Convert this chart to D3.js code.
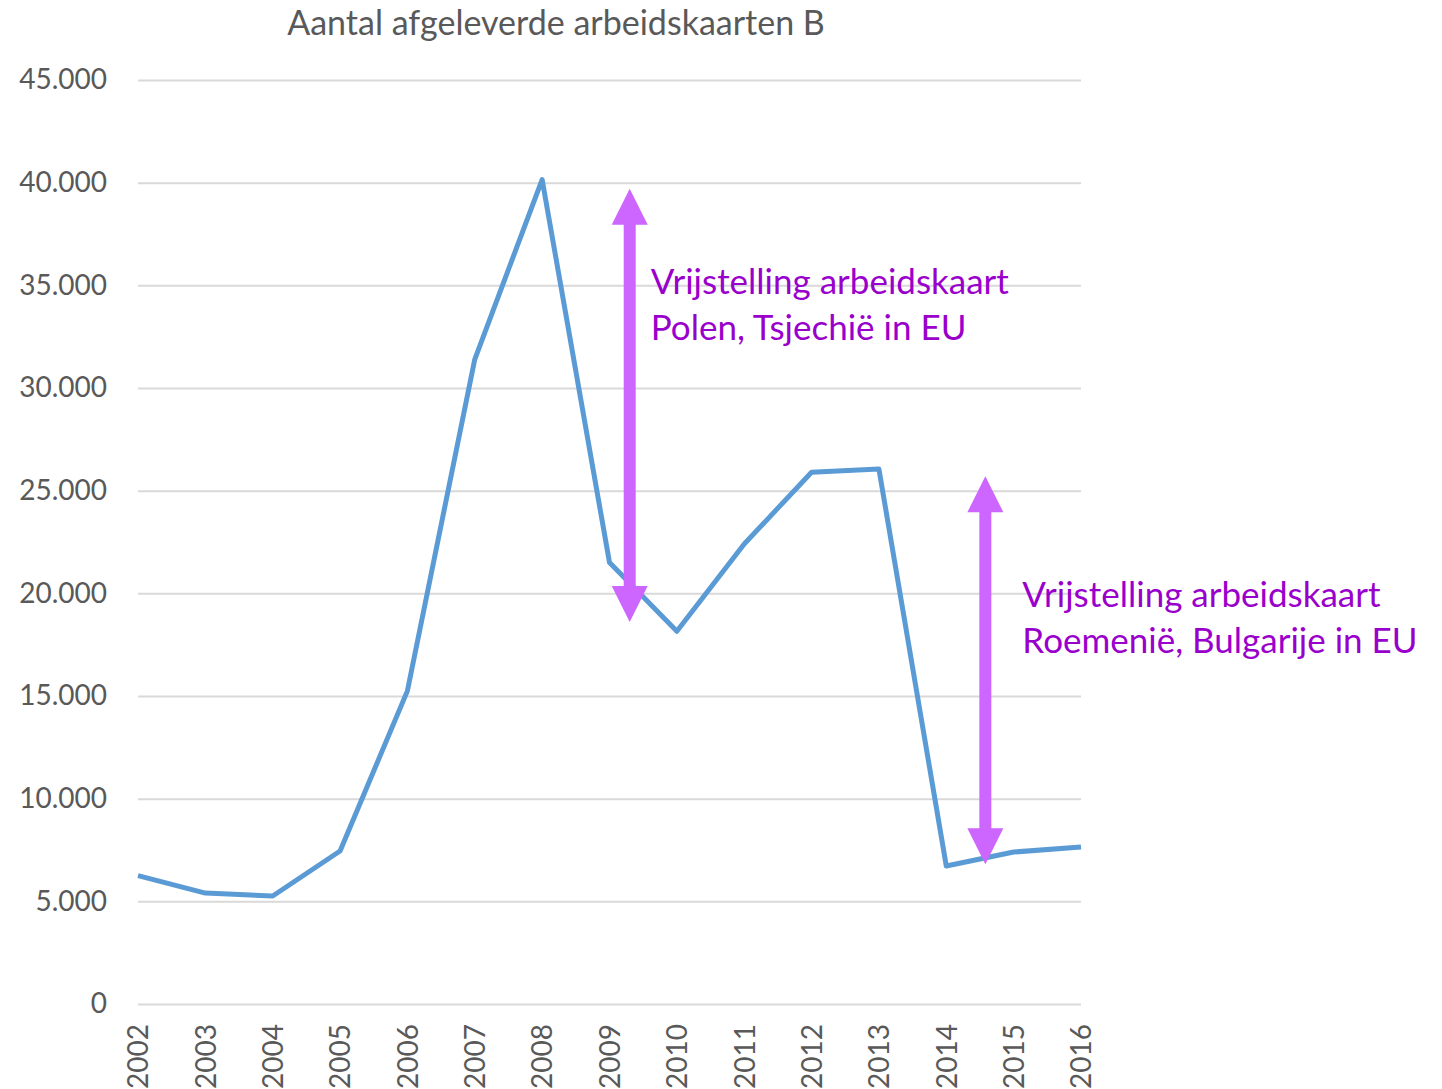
<!DOCTYPE html>
<html>
<head>
<meta charset="utf-8">
<script src="https://cdn.jsdelivr.net/npm/d3@7"></script>
<style>
  body { margin: 0; background: #fff; }
  svg { font-family: Lato, "Open Sans", sans-serif; }
</style>
</head>
<body>
<div id="chart"></div>
<script>
// ==== Data ====
const years = [2002, 2003, 2004, 2005, 2006, 2007, 2008, 2009, 2010, 2011, 2012, 2013, 2014, 2015, 2016];
const cards = [6250, 5400, 5260, 7450, 15250, 31400, 40150, 21500, 18150, 22400, 25900, 26050, 6720, 7400, 7650];
const yTicks = [0, 5000, 10000, 15000, 20000, 25000, 30000, 35000, 40000, 45000];

// annotation arrows: year position, low and high value
const arrowX = [2009.3, 2014.58];
const arrowLow = [18600, 6800];
const arrowHigh = [39700, 25700];
const arrowText = [
    ["Vrijstelling arbeidskaart", "Polen, Tsjechië in EU"],
    ["Vrijstelling arbeidskaart", "Roemenië, Bulgarije in EU"]
];

const svg = d3.select("#chart")
    .append("svg")
    .attr("width", 1442)
    .attr("height", 1089);

const margin = { top: 80, right: 361, bottom: 85, left: 138 };
const width = 1442 - margin.left - margin.right;
const height = 1089 - margin.top - margin.bottom;

const x = d3.scaleLinear().domain([2002, 2016]).range([margin.left, margin.left + width]);
const y = d3.scaleLinear().domain([0, 45000]).range([margin.top + height, margin.top]);

const nl = d3.formatLocale({ decimal: ",", thousands: ".", grouping: [3], currency: ["", ""] });
const fmt = nl.format(",");

// title
svg.append("text")
    .attr("x", 556)
    .attr("y", 35)
    .attr("text-anchor", "middle")
    .attr("fill", "#595959")
    .style("font-size", "34px")
    .text("Aantal afgeleverde arbeidskaarten B");

// y axis with gridlines
const yAxis = svg.append("g")
    .attr("transform", `translate(${margin.left},0)`)
    .call(d3.axisLeft(y).tickValues(yTicks).tickSize(-width).tickPadding(31).tickFormat(d => fmt(d)));
yAxis.select(".domain").remove();
yAxis.selectAll("line").attr("stroke", "#d9d9d9").attr("stroke-width", 2);
yAxis.selectAll("text")
    .attr("fill", "#595959")
    .style("font-size", "28px")
    .style("font-family", "Lato, 'Open Sans', sans-serif");

// x axis
const xAxis = svg.append("g")
    .attr("transform", `translate(0,${margin.top + height})`)
    .call(d3.axisBottom(x).tickValues(years).tickFormat(d3.format("d")).tickSize(0));
xAxis.select(".domain").remove();
xAxis.selectAll("text")
    .attr("fill", "#595959")
    .style("font-size", "28px")
    .style("font-family", "Lato, 'Open Sans', sans-serif")
    .attr("transform", "rotate(-90)")
    .attr("text-anchor", "end")
    .attr("x", -20)
    .attr("y", 0)
    .attr("dy", "0.35em");

// line
const line = d3.line()
    .x((d, i) => x(years[i]))
    .y(d => y(d));

svg.append("path")
    .datum(cards)
    .attr("fill", "none")
    .attr("stroke", "#5b9bd5")
    .attr("stroke-width", 5)
    .attr("stroke-linejoin", "round")
    .attr("d", line);

// double arrows
const headLen = 36, headHalf = 18, shaft = 6;
const textDx = [21, 37], textDy = [105, 131];
arrowX.forEach((ax, i) => {
    const cx = x(ax);
    const yTop = y(arrowHigh[i]);
    const yBot = y(arrowLow[i]);
    const p = d3.path();
    p.moveTo(cx, yTop);
    p.lineTo(cx + headHalf, yTop + headLen);
    p.lineTo(cx + shaft, yTop + headLen);
    p.lineTo(cx + shaft, yBot - headLen);
    p.lineTo(cx + headHalf, yBot - headLen);
    p.lineTo(cx, yBot);
    p.lineTo(cx - headHalf, yBot - headLen);
    p.lineTo(cx - shaft, yBot - headLen);
    p.lineTo(cx - shaft, yTop + headLen);
    p.lineTo(cx - headHalf, yTop + headLen);
    p.closePath();
    svg.append("path")
        .attr("d", p.toString())
        .attr("fill", "#cc66ff");

    const t = svg.append("text")
        .attr("x", cx + textDx[i])
        .attr("y", yTop + textDy[i])
        .attr("fill", "#9900cc")
        .style("font-size", "35px");
    arrowText[i].forEach((s, j) => {
        t.append("tspan")
            .attr("x", cx + textDx[i])
            .attr("dy", j === 0 ? 0 : 46)
            .text(s);
    });
});
</script>
</body>
</html>
